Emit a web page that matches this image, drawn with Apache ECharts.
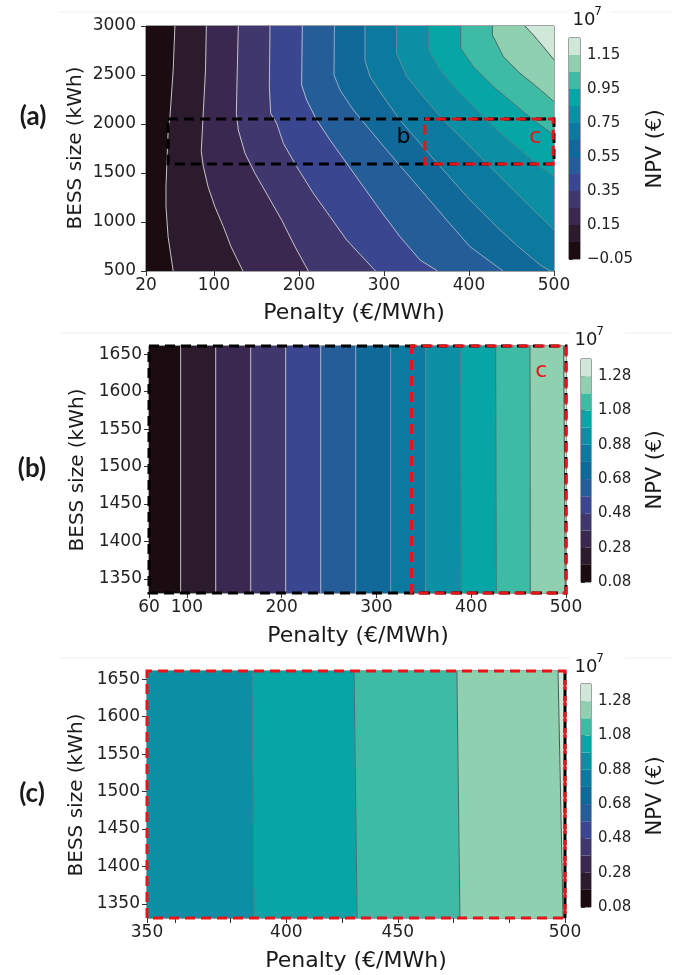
<!DOCTYPE html>
<html>
<head>
<meta charset="utf-8">
<script src="https://cdn.jsdelivr.net/npm/echarts@6.0.0/dist/echarts.min.js"></script>
<style>
html,body{margin:0;padding:0;background:#ffffff;}
#chart{width:681px;height:975px;}
</style>
</head>
<body>
<div id="chart"></div>
<script>
// ---------------- DATA ----------------
// colours of the 13 discrete NPV bands (shared by the three panels)
const bandColors = ['#1a0c11','#2c1a2d','#3b2850','#41376f','#3b4690','#245d98','#106999',
                    '#0b7a9e','#0a8fa5','#07a6a6','#3dbba4','#8fd0b0','#cfe8d9'];
// contour line colours (light on the dark side, grey on the light side)
const lineColors = ['#d6d6d6','#d6d6d6','#d2d2d2','#cccccc','#c0c6d0','#a6b6c6','#8aa0b0',
                    '#6f8a96','#5a7880','#4c6a70','#3f5a5c','#394848'];
// contour levels (x10^7 EUR)
const levelsA  = [-0.05,0.05,0.15,0.25,0.35,0.45,0.55,0.65,0.75,0.85,0.95,1.05,1.15,1.25];
const levelsBC = [0.08,0.18,0.28,0.38,0.48,0.58,0.68,0.78,0.88,0.98,1.08,1.18,1.28,1.38];
const cbarTicksA  = [-0.05,0.15,0.35,0.55,0.75,0.95,1.15];
const cbarTicksBC = [0.08,0.28,0.48,0.68,0.88,1.08,1.28];

// axis ticks
const penaltyTicksA = [20,100,200,300,400,500];
const bessTicksA    = [500,1000,1500,2000,2500,3000];
const penaltyTicksB = [60,100,200,300,400,500];
const bessTicksBC   = [1350,1400,1450,1500,1550,1600,1650];
const penaltyTickMarksC = [350,360,380,400,420,440,460,480,500];
const penaltyLabelPosC  = [350,400,440,500];
const penaltyLabelTextC = ['350','400','450','500'];

// axis ranges
const penaltyRangeA = [20,500];
const bessRangeA    = [500,3000];
const penaltyRangeB = [60,500];
const penaltyRangeC = [350,500];
const bessRangeBC   = [1331,1661];

// panel (a) contour lines: [penalty, BESS size], from top edge to bottom/right edge
const contourA1  = [[54,3000],[52,2551],[48,2051],[46,1922],[45,1701],[43.5,1361],[43.5,1157],[46,850],[52,500]];
const contourA2  = [[91,3000],[90,2551],[87,2051],[85,1718],[87.5,1565],[93,1361],[101,1157],[111,953],[120,748],[134,500]];
const contourA3  = [[128.6,3000],[127.4,2551],[126.3,2109],[128.6,1939],[136.5,1701],[148.2,1497],[163.9,1259],[179.6,1020],[195.3,748],[211,500]];
const contourA4  = [[165.9,3000],[165.1,2381],[166.7,2109],[173.7,2007],[181.6,1803],[197.3,1565],[216.9,1293],[236.5,1055],[256.1,816],[290,500]];
const contourA5  = [[203.9,3000],[203.1,2398],[209,2245],[220.8,2041],[236.5,1837],[256.1,1599],[275.7,1361],[295.3,1123],[318.8,850],[342.4,612],[363,500]];
const contourA6  = [[241.6,3000],[241.2,2500],[248.2,2347],[263.9,2143],[283.5,1939],[303.1,1735],[326.6,1497],[350.2,1259],[373.7,1020],[401.2,748],[440,500]];
const contourA7  = [[277.6,3000],[277.6,2653],[283.5,2483],[299.2,2279],[318.8,2041],[342.3,1803],[369.7,1531],[401.1,1225],[432.5,952],[458,748],[484,560],[500,480]];
const contourA8  = [[314.8,3000],[314.8,2721],[326.6,2483],[346.2,2279],[369.7,2041],[393.2,1837],[416.7,1633],[444.2,1395],[471.6,1157],[500,919]];
const contourA9  = [[352.1,3000],[352.1,2755],[365.9,2551],[385.5,2347],[409,2143],[432.5,1939],[460,1735],[483.5,1565],[500,1463]];
const contourA10 = [[390.2,3000],[390.2,2772],[405.1,2585],[428.6,2381],[452.1,2211],[475.7,2041],[500,1888]];
const contourA11 = [[427.5,3000],[427.5,2908],[440.4,2687],[460,2517],[479.6,2381],[500,2228]];
const contourA12 = [[465.9,3000],[475.7,2908],[487.4,2789],[500,2653]];
const contoursA = [contourA1,contourA2,contourA3,contourA4,contourA5,contourA6,
                   contourA7,contourA8,contourA9,contourA10,contourA11,contourA12];

// panel (b) band boundaries (penalty at top and at bottom of the plot)
const boundTopB = [93.4,130.4,167.3,204.2,241.2,278.1,315.0,352.0,388.9,425.8,462.0,497.5];
const boundBotB = [93.4,130.4,167.3,204.2,241.2,278.1,315.0,352.0,389.4,426.4,462.3,499.3];
// panel (c) band boundaries
const boundTopC = [387.7,424.3,461.2,497.5];
const boundBotC = [388.4,425.4,462.3,499.3];

// zoom boxes [penaltyMin, bessMin, penaltyMax, bessMax]
const boxBinA = [46,1592,500,2051];
const boxCinA = [348,1592,499,2051];
const boxBinB = [60,1331,500,1661];
const boxCinB = [337,1331,500,1661];
const boxCinC = [350,1331,500,1661];
const edgeBinC = [500,1331,500,1661];
// box letters [penalty, bess, text]
const letterBinA = [323,1867,'b'];
const letterCinA = [478,1867,'c'];
const letterCinB = [474,1627,'c'];

// ---------------- HELPERS ----------------
const FONT = 'DejaVu Sans';
const linesB = boundTopB.map((p,i)=>[[p,bessRangeBC[1]],[boundBotB[i],bessRangeBC[0]]]);
const linesC = boundTopC.map((p,i)=>[[p,bessRangeBC[1]],[boundBotC[i],bessRangeBC[0]]]);

function fillSeries(idx, lines, colorOffset, xr, yr){
  return {
    type:'custom', xAxisIndex:idx, yAxisIndex:idx, silent:true, z:1, clip:true,
    data: bandColors.slice(0, lines.length+1).map((c,k)=>[k]),
    renderItem(params, api){
      const k = api.value(0);
      let pts;
      if (k === 0) pts = [[xr[0],yr[0]],[xr[1],yr[0]],[xr[1],yr[1]],[xr[0],yr[1]]];
      else {
        const ln = lines[k-1];
        pts = ln.slice();
        const last = ln[ln.length-1];
        if (last[0] < xr[1]) pts.push([xr[1],yr[0]]);
        pts.push([xr[1],yr[1]]);
      }
      const col = bandColors[colorOffset+k];
      return {type:'polygon', shape:{points:pts.map(p=>api.coord(p))},
              style:{fill:col, stroke:col, lineWidth:0.6}};
    }
  };
}
function lineSeries(idx, lines, colorOffset){
  return {
    type:'custom', xAxisIndex:idx, yAxisIndex:idx, silent:true, z:3, clip:true,
    data: lines.map((l,k)=>[k]),
    renderItem(params, api){
      const k = api.value(0);
      return {type:'polyline', shape:{points:lines[k].map(p=>api.coord(p))},
              style:{stroke:lineColors[colorOffset+k], lineWidth:0.9, fill:null}};
    }
  };
}
function boxSeries(idx, box, color, dash, dashOffset, z){
  return {
    type:'custom', xAxisIndex:idx, yAxisIndex:idx, silent:true, z:z, clip:false,
    data:[box],
    renderItem(params, api){
      const p0 = api.coord([api.value(0), api.value(1)]);
      const p1 = api.coord([api.value(2), api.value(3)]);
      return {type:'rect', shape:{x:p0[0], y:p1[1], width:p1[0]-p0[0], height:p0[1]-p1[1]},
              style:{fill:null, stroke:color, lineWidth:3, lineDash:dash, lineDashOffset:dashOffset}};
    }
  };
}
function letterSeries(idx, letter, color){
  return {
    type:'custom', xAxisIndex:idx, yAxisIndex:idx, silent:true, z:6, clip:false,
    data:[[letter[0], letter[1]]],
    renderItem(params, api){
      const p = api.coord([api.value(0), api.value(1)]);
      return {type:'text', x:p[0], y:p[1],
              style:{text:letter[2], fill:color, font:'22px "'+FONT+'"', align:'center', verticalAlign:'middle'}};
    }
  };
}
function cbarSeries(idx, levels){
  return {
    type:'custom', xAxisIndex:idx, yAxisIndex:idx, silent:true, z:1,
    data: levels.slice(0,-1).map((lv,i)=>[i, lv, levels[i+1]]),
    renderItem(params, api){
      const p0 = api.coord([0, api.value(1)]);
      const p1 = api.coord([1, api.value(2)]);
      return {type:'rect', shape:{x:p0[0], y:p1[1], width:p1[0]-p0[0], height:p0[1]-p1[1]},
              style:{fill:bandColors[api.value(0)]}};
    }
  };
}
const tickStyle = {color:'#222', fontFamily:FONT, fontSize:17};
function mainX(grid, range, tickVals, labelVals, fmt){
  return {type:'value', gridIndex:grid, min:range[0], max:range[1],
    splitLine:{show:false}, axisLine:{show:false},
    axisTick:{show:true, length:5, inside:false, customValues:tickVals, lineStyle:{color:'#333'}},
    axisLabel:Object.assign({margin:6, customValues:labelVals, formatter:fmt||(v=>String(v))}, tickStyle)};
}
function mainY(grid, range, tickVals, margin){
  return {type:'value', gridIndex:grid, min:range[0], max:range[1],
    splitLine:{show:false}, axisLine:{show:false},
    axisTick:{show:true, length:5, customValues:tickVals, lineStyle:{color:'#333'}},
    axisLabel:Object.assign({margin:margin, customValues:tickVals, formatter:v=>String(v)}, tickStyle)};
}
function cbX(grid){ return {type:'value', gridIndex:grid, min:0, max:1, show:false}; }
function cbY(grid, levels, ticks){
  return {type:'value', gridIndex:grid, min:levels[0], max:levels[levels.length-1], position:'right',
    splitLine:{show:false}, axisLine:{show:false},
    axisTick:{show:true, length:4, customValues:ticks, lineStyle:{color:'#333'}},
    axisLabel:{margin:7, customValues:ticks, color:'#222', fontFamily:FONT, fontSize:15,
      formatter:v=>v.toFixed(2).replace('-','\u2212')}};
}

// ---------------- TEXT ----------------
function txt(x,y,text,size,opts){
  return Object.assign({type:'text', x:x, y:y, silent:true, z:100,
    style:{text:text, font:(opts&&opts.weight?opts.weight+' ':'')+size+'px "'+((opts&&opts.family)||FONT)+'"',
           fill:'#1a1a1a', align:'center', verticalAlign:'middle'}}, opts&&opts.rot!==undefined?{rotation:opts.rot}:{});
}
function hline(x1,x2,y,c){ return {type:'line', silent:true, z:0, shape:{x1:x1,y1:y,x2:x2,y2:y}, style:{stroke:c, lineWidth:1}}; }
const R = Math.PI/2;
const graphics = [
  hline(59,567,12,'#eeeeee'), hline(611,672,12,'#eeeeee'),
  hline(60,570,333,'#eeeeee'), hline(625,672,333,'#eeeeee'),
  hline(60,570,658,'#eeeeee'), hline(625,672,658,'#eeeeee'),
  txt(33,117,'(a)',26,{weight:'bold', family:'Lato'}),
  txt(32,469,'(b)',26,{weight:'bold', family:'Lato'}),
  txt(32,794,'(c)',26,{weight:'bold', family:'Lato'}),
  txt(76,148,'BESS size (kWh)',20,{rot:R}),
  txt(78,470,'BESS size (kWh)',20,{rot:R}),
  txt(77,795,'BESS size (kWh)',20,{rot:R}),
  txt(354,313,'Penalty (\u20ac/MWh)',22),
  txt(358,636,'Penalty (\u20ac/MWh)',22),
  txt(356,961,'Penalty (\u20ac/MWh)',22),
  txt(656,149,'NPV (\u20ac)',21,{rot:R}),
  txt(656,470,'NPV (\u20ac)',21,{rot:R}),
  txt(656,796,'NPV (\u20ac)',21,{rot:R}),
  txt(584,20,'10',18), txt(598,12,'7',12),
  txt(586,340,'10',18), txt(600,332,'7',12),
  txt(586,667,'10',18), txt(600,659,'7',12)
];

// ---------------- CHART ----------------
const chart = echarts.init(document.getElementById('chart'), null, {renderer:'canvas'});
const border = {show:true, borderColor:'#444', borderWidth:1, backgroundColor:'transparent'};
const option = {
  animation:false,
  backgroundColor:'#ffffff',
  grid:[
    Object.assign({left:146, top:26, width:408, height:245}, border),
    Object.assign({left:569, top:38, width:11, height:221}, border),
    Object.assign({left:149, top:346, width:417, height:247}, border),
    Object.assign({left:581, top:359, width:10, height:223}, border),
    Object.assign({left:147, top:671, width:418, height:247}, border),
    Object.assign({left:581, top:684, width:10, height:223}, border)
  ],
  xAxis:[
    mainX(0, penaltyRangeA, penaltyTicksA, penaltyTicksA),
    cbX(1),
    mainX(2, penaltyRangeB, penaltyTicksB, penaltyTicksB),
    cbX(3),
    mainX(4, penaltyRangeC, penaltyTickMarksC, penaltyLabelPosC,
          v=>penaltyLabelTextC[penaltyLabelPosC.indexOf(v)]),
    cbX(5)
  ],
  yAxis:[
    mainY(0, bessRangeA, bessTicksA, 10),
    cbY(1, levelsA, cbarTicksA),
    mainY(2, bessRangeBC, bessTicksBC, 7),
    cbY(3, levelsBC, cbarTicksBC),
    mainY(4, bessRangeBC, bessTicksBC, 7),
    cbY(5, levelsBC, cbarTicksBC)
  ],
  series:[
    fillSeries(0, contoursA, 0, penaltyRangeA, bessRangeA),
    lineSeries(0, contoursA, 0),
    boxSeries(0, boxBinA, '#000000', [10,6], 0, 4),
    boxSeries(0, boxCinA, '#e8141b', [10,6], 5, 5),
    letterSeries(0, letterBinA, '#000000'),
    letterSeries(0, letterCinA, '#e8141b'),
    cbarSeries(1, levelsA),

    fillSeries(2, linesB, 0, penaltyRangeB, bessRangeBC),
    lineSeries(2, linesB, 0),
    boxSeries(2, boxBinB, '#000000', [10,6], 0, 4),
    boxSeries(2, boxCinB, '#e8141b', [10,6], 5, 5),
    letterSeries(2, letterCinB, '#e8141b'),
    cbarSeries(3, levelsBC),

    fillSeries(4, linesC, 8, penaltyRangeC, bessRangeBC),
    lineSeries(4, linesC, 8),
    boxSeries(4, edgeBinC, '#000000', [10,6], 0, 4),
    boxSeries(4, boxCinC, '#e8141b', [10,6], 5, 5),
    cbarSeries(5, levelsBC)
  ],
  graphic:graphics
};
chart.setOption(option);
</script>
</body>
</html>
